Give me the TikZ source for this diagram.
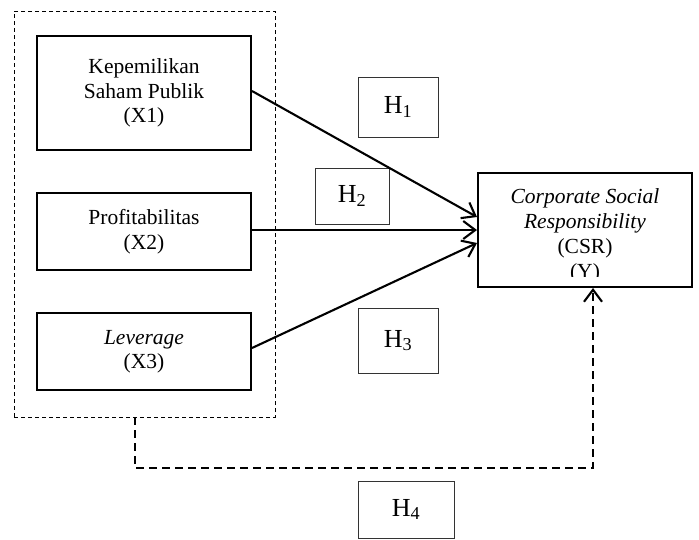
\documentclass[tikz,border=0pt]{standalone}
\usepackage{fontspec}
\setmainfont{Liberation Serif}
\usetikzlibrary{arrows.meta}
\tikzset{
  varbox/.style={draw, line width=2pt, inner sep=0pt, align=center, font=\fontsize{21.5}{24.5}\selectfont},
  hbox/.style={draw=black!80, line width=1pt, inner sep=0pt, font=\fontsize{26}{28}\selectfont},
  grpbox/.style={draw, line width=0.8pt, dash pattern=on 4pt off 3pt, inner sep=0pt},
  link/.style={line width=2.1pt, -{Straight Barb[length=12pt,width=18pt,line width=2.1pt]}},
  dlink/.style={line width=2.1pt, dash pattern=on 8pt off 5pt, -{Straight Barb[length=12pt,width=18pt,line width=2.1pt]}},
}
\begin{document}
\begin{tikzpicture}[x=1pt,y=-1pt]
\useasboundingbox (0,0) rectangle (699,539);
\fill[white] (0,0) rectangle (699,539);
% group
\node[grpbox, minimum width=261pt, minimum height=406pt] (grp) at (144.5,214) {};
% variables
\node[varbox, minimum width=214pt, minimum height=114pt] (x1) at (144,93) {Kepemilikan\\Saham Publik\\(X1)};
\node[varbox, minimum width=214pt, minimum height=77pt] (x2) at (144,231.5) {Profitabilitas\\(X2)};
\node[varbox, minimum width=214pt, minimum height=77pt] (x3) at (144,351.5) {\textit{Leverage}\\(X3)};
\node[varbox, minimum width=214pt, minimum height=114pt] (csr) at (585,230) {};
\begin{scope}
\clip (478,173) rectangle (692,276);
\node[inner sep=0pt, anchor=north, align=center, font=\fontsize{21.5}{25}\selectfont] (csrtext) at (585,188.5) {\textit{Corporate Social}\\\textit{Responsibility}\\(CSR)\\(Y)};
\end{scope}
% hypotheses
\node[hbox, minimum width=80pt, minimum height=60pt] (h1) at (398,107) {H\textsubscript{1}};
\node[hbox, minimum width=74pt, minimum height=56pt] (h2) at (352,196) {H\textsubscript{2}};
\node[hbox, minimum width=80pt, minimum height=65pt] (h3) at (398,340.5) {H\textsubscript{3}};
\node[hbox, minimum width=96pt, minimum height=57pt] (h4) at (406,509.5) {H\textsubscript{4}};
% arrows
\draw[link] ([yshift=2pt]x1.east) -- ([yshift=13pt]csr.west);
\draw[link] ([yshift=1.5pt]x2.east) -- (csr.west);
\draw[link] ([yshift=3.5pt]x3.east) -- ([yshift=-13pt]csr.west);
\coordinate (c1) at (135,468);
\coordinate (c2) at (593,468);
\draw[dlink] ([xshift=-9.5pt]grp.south) -- (c1) -- (c2) -- ([xshift=8pt]csr.south);
\end{tikzpicture}
\end{document}
